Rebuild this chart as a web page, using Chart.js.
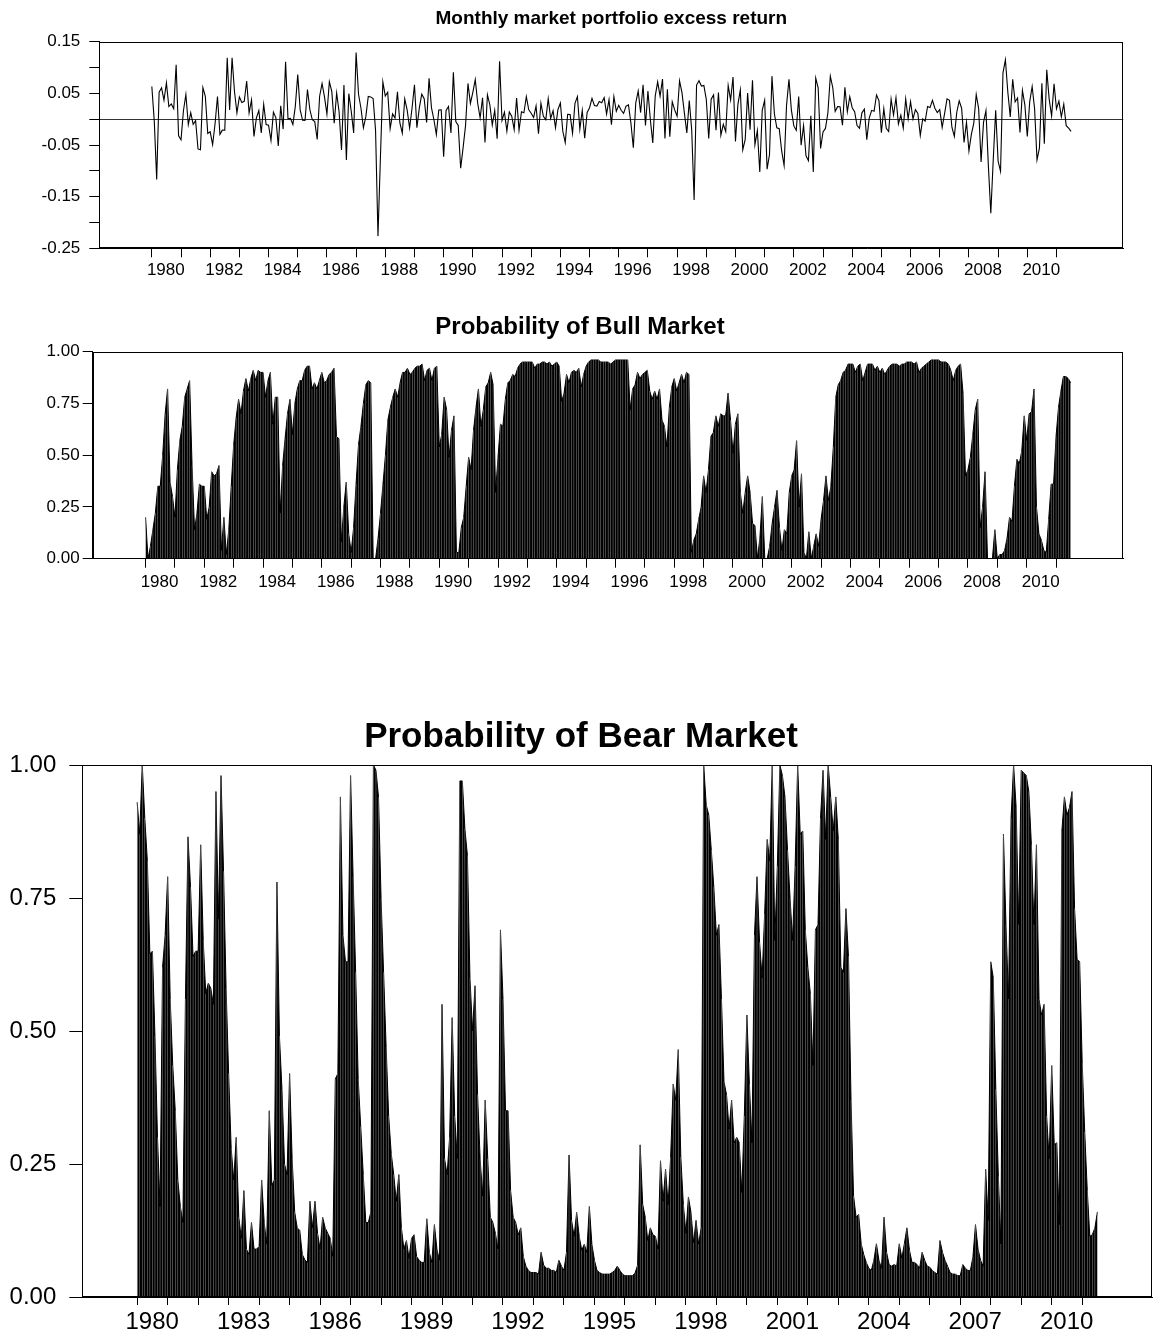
<!DOCTYPE html>
<html>
<head>
<meta charset="utf-8">
<title>Market regimes</title>
<script src="https://cdn.jsdelivr.net/npm/chart.js@4.4.1/dist/chart.umd.min.js"></script>
<style>
  body { margin: 0; background: #fff; }
  .panel { position: absolute; left: 0; width: 1160px; }
  #topBox { top: 0; height: 290px; }
  #bullBox { top: 290px; height: 310px; }
  #bearBox { top: 680px; height: 660px; }
</style>
</head>
<body>
<div class="panel" id="topBox"><canvas id="returnChart"></canvas></div>
<div class="panel" id="bullBox"><canvas id="bullChart"></canvas></div>
<div class="panel" id="bearBox"><canvas id="bearChart"></canvas></div>

<script>
// monthly observations, 1980M1 .. 2011M7
const startYear = 1980;

const yearTicks = [1980, 1981, 1982, 1983, 1984, 1985, 1986, 1987, 1988, 1989, 1990, 1991,
  1992, 1993, 1994, 1995, 1996, 1997, 1998, 1999, 2000, 2001, 2002, 2003, 2004, 2005,
  2006, 2007, 2008, 2009, 2010, 2011];
const evenYearLabels = [1980, 1982, 1984, 1986, 1988, 1990, 1992, 1994, 1996, 1998, 2000,
  2002, 2004, 2006, 2008, 2010];
const bearYearLabels = [1980, 1983, 1986, 1989, 1992, 1995, 1998, 2001, 2004, 2007, 2010];

const returnTicks = [0.15, 0.10, 0.05, 0, -0.05, -0.10, -0.15, -0.20, -0.25];
const returnLabels = [0.15, 0.05, -0.05, -0.15, -0.25];
const probTicks = [0, 0.25, 0.5, 0.75, 1];

const excessReturn = [
  0.0631, -0.0033, -0.1169, 0.0523, 0.0607, 0.0367, 0.0702, 0.0244, 0.0294, 0.0201, 0.1055, -0.0321,
  -0.0400, 0.0164, 0.0477, -0.0103, 0.0126, -0.0101, -0.0030, -0.0576, -0.0593, 0.0613, 0.0443, -0.0278,
  -0.0244, -0.0494, -0.0089, 0.0440, -0.0293, -0.0213, -0.0214, 0.1190, 0.0180, 0.1189, 0.0530, 0.0122,
  0.0429, 0.0322, 0.0345, 0.0738, 0.0121, 0.0374, -0.0333, 0.0026, 0.0167, -0.0268, 0.0286, -0.0105,
  -0.0116, -0.0411, 0.0136, 0.0030, -0.0519, 0.0257, -0.0192, 0.1111, 0.0006, 0.0016, -0.0103, 0.0248,
  0.0864, 0.0180, -0.0022, -0.0024, 0.0575, 0.0182, -0.0012, -0.0047, -0.0394, 0.0444, 0.0692, 0.0431,
  0.0098, 0.0725, 0.0539, -0.0079, 0.0508, 0.0145, -0.0597, 0.0663, -0.0790, 0.0494, 0.0153, -0.0266,
  0.1289, 0.0482, 0.0211, -0.0167, 0.0049, 0.0442, 0.0431, 0.0399, -0.0214, -0.2264, -0.0742, 0.0720,
  0.0450, 0.0521, -0.0183, 0.0102, 0.0022, 0.0528, -0.0074, -0.0272, 0.0392, 0.0176, -0.0172, 0.0212,
  0.0665, -0.0164, 0.0218, 0.0484, 0.0397, -0.0064, 0.0790, 0.0218, -0.0011, -0.0299, 0.0179, 0.0182,
  -0.0728, 0.0168, 0.0247, -0.0267, 0.0910, -0.0046, -0.0122, -0.0949, -0.0552, -0.0124, 0.0692, 0.0306,
  0.0521, 0.0767, 0.0309, 0.0025, 0.0412, -0.0452, 0.0473, 0.0278, -0.0113, 0.0171, -0.0380, 0.1122,
  -0.0025, 0.0137, -0.0232, 0.0139, 0.0058, -0.0202, 0.0408, -0.0212, 0.0145, 0.0125, 0.0436, 0.0181,
  0.0116, 0.0034, 0.0255, -0.0281, 0.0311, 0.0056, -0.0010, 0.0396, 0.0014, 0.0163, -0.0164, 0.0188,
  0.0312, -0.0234, -0.0451, 0.0095, 0.0089, -0.0272, 0.0305, 0.0438, -0.0194, 0.0172, -0.0367, 0.0130,
  0.0222, 0.0403, 0.0265, 0.0255, 0.0344, 0.0319, 0.0417, 0.0102, 0.0378, -0.0105, 0.0438, 0.0152,
  0.0269, 0.0172, 0.0112, 0.0252, 0.0278, -0.0074, -0.0552, 0.0318, 0.0545, 0.0128, 0.0666, -0.0124,
  0.0544, -0.0010, -0.0459, 0.0447, 0.0723, 0.0447, 0.0776, -0.0374, 0.0579, -0.0338, 0.0337, 0.0180,
  0.0058, 0.0743, 0.0515, 0.0116, -0.0267, 0.0359, -0.0206, -0.1565, 0.0661, 0.0745, 0.0641, 0.0654,
  0.0385, -0.0373, 0.0388, 0.0470, -0.0212, 0.0517, -0.0311, -0.0099, -0.0240, 0.0651, 0.0373, 0.0816,
  -0.0433, 0.0288, 0.0567, -0.0594, -0.0392, 0.0504, -0.0203, 0.0753, -0.0494, -0.0220, -0.1021, 0.0169,
  0.0367, -0.0967, -0.0684, 0.0833, 0.0104, -0.0166, -0.0183, -0.0615, -0.0897, 0.0268, 0.0771, 0.0176,
  -0.0130, -0.0216, 0.0437, -0.0505, -0.0124, -0.0708, -0.0803, 0.0064, -0.1021, 0.0798, 0.0608, -0.0565,
  -0.0247, -0.0179, 0.0119, 0.0832, 0.0614, 0.0152, 0.0242, 0.0241, -0.0116, 0.0615, 0.0142, 0.0437,
  0.0222, 0.0146, -0.0123, -0.0175, 0.0123, 0.0194, -0.0396, 0.0019, 0.0171, 0.0154, 0.0469, 0.0359,
  -0.0260, 0.0205, -0.0176, -0.0240, 0.0389, 0.0080, 0.0416, -0.0092, 0.0078, -0.0175, 0.0392, 0.0007,
  0.0339, 0.0004, 0.0183, 0.0109, -0.0314, 0.0005, -0.0038, 0.0245, 0.0225, 0.0364, 0.0213, 0.0127,
  0.0184, -0.0158, 0.0111, 0.0393, 0.0365, -0.0156, -0.0333, 0.0134, 0.0354, 0.0212, -0.0449, -0.0060,
  -0.0615, -0.0296, -0.0076, 0.0478, 0.0204, -0.0827, -0.0062, 0.0166, -0.0909, -0.1820, -0.0783, 0.0174,
  -0.0812, -0.1009, 0.0897, 0.1150, 0.0521, 0.0044, 0.0773, 0.0334, 0.0409, -0.0259, 0.0556, 0.0276,
  -0.0336, 0.0340, 0.0632, 0.0201, -0.0788, -0.0555, 0.0694, -0.0476, 0.0955, 0.0389, 0.0061, 0.0683,
  0.0200, 0.0350, 0.0046, 0.0290, -0.0126, -0.0175, -0.0236
];

const bullProb = [
  0.20, 0.00, 0.06, 0.14, 0.22, 0.35, 0.35, 0.50, 0.70, 0.82, 0.37, 0.30,
  0.20, 0.43, 0.57, 0.64, 0.78, 0.82, 0.86, 0.45, 0.14, 0.22, 0.36, 0.35,
  0.35, 0.19, 0.25, 0.42, 0.40, 0.41, 0.45, 0.04, 0.20, 0.02, 0.14, 0.35,
  0.55, 0.68, 0.77, 0.70, 0.81, 0.87, 0.81, 0.87, 0.91, 0.86, 0.91, 0.90,
  0.90, 0.78, 0.86, 0.90, 0.65, 0.78, 0.78, 0.22, 0.45, 0.58, 0.70, 0.77,
  0.60, 0.75, 0.82, 0.86, 0.86, 0.91, 0.93, 0.93, 0.82, 0.85, 0.82, 0.86,
  0.90, 0.85, 0.86, 0.89, 0.90, 0.92, 0.59, 0.58, 0.08, 0.25, 0.37, 0.12,
  0.03, 0.15, 0.36, 0.55, 0.64, 0.75, 0.84, 0.86, 0.85, 0.00, 0.00, 0.10,
  0.22, 0.36, 0.50, 0.67, 0.73, 0.78, 0.82, 0.78, 0.85, 0.90, 0.90, 0.92,
  0.89, 0.90, 0.92, 0.93, 0.93, 0.94, 0.86, 0.91, 0.92, 0.86, 0.92, 0.93,
  0.54, 0.60, 0.78, 0.72, 0.49, 0.62, 0.69, 0.03, 0.03, 0.15, 0.20, 0.35,
  0.49, 0.43, 0.62, 0.73, 0.82, 0.64, 0.72, 0.83, 0.85, 0.90, 0.84, 0.32,
  0.49, 0.65, 0.64, 0.77, 0.85, 0.86, 0.89, 0.88, 0.92, 0.94, 0.95, 0.95,
  0.95, 0.95, 0.95, 0.92, 0.94, 0.94, 0.95, 0.95, 0.94, 0.95, 0.93, 0.94,
  0.95, 0.93, 0.76, 0.80, 0.89, 0.85, 0.90, 0.91, 0.90, 0.92, 0.83, 0.89,
  0.93, 0.95, 0.96, 0.96, 0.96, 0.96, 0.95, 0.95, 0.95, 0.95, 0.94, 0.95,
  0.96, 0.96, 0.96, 0.96, 0.96, 0.96, 0.72, 0.82, 0.84, 0.90, 0.87, 0.89,
  0.90, 0.91, 0.81, 0.77, 0.81, 0.77, 0.82, 0.67, 0.64, 0.54, 0.73, 0.83,
  0.87, 0.81, 0.85, 0.89, 0.85, 0.90, 0.89, 0.03, 0.09, 0.12, 0.19, 0.25,
  0.40, 0.32, 0.43, 0.59, 0.61, 0.69, 0.64, 0.70, 0.69, 0.69, 0.80, 0.67,
  0.51, 0.65, 0.70, 0.32, 0.22, 0.32, 0.40, 0.32, 0.17, 0.16, 0.00, 0.10,
  0.30, 0.00, 0.00, 0.06, 0.17, 0.25, 0.33, 0.15, 0.04, 0.14, 0.12, 0.32,
  0.40, 0.43, 0.57, 0.25, 0.41, 0.03, 0.00, 0.13, 0.00, 0.06, 0.12, 0.06,
  0.19, 0.28, 0.40, 0.28, 0.35, 0.54, 0.78, 0.84, 0.86, 0.90, 0.91, 0.94,
  0.94, 0.94, 0.90, 0.93, 0.94, 0.86, 0.90, 0.94, 0.94, 0.94, 0.91, 0.93,
  0.90, 0.92, 0.89, 0.91, 0.93, 0.94, 0.94, 0.94, 0.93, 0.94, 0.94, 0.95,
  0.95, 0.95, 0.94, 0.95, 0.90, 0.92, 0.93, 0.94, 0.95, 0.96, 0.96, 0.96,
  0.96, 0.95, 0.95, 0.95, 0.94, 0.91, 0.86, 0.91, 0.93, 0.94, 0.80, 0.40,
  0.43, 0.49, 0.60, 0.72, 0.77, 0.15, 0.25, 0.42, 0.00, 0.00, 0.00, 0.14,
  0.00, 0.02, 0.02, 0.04, 0.10, 0.20, 0.18, 0.35, 0.48, 0.46, 0.52, 0.69,
  0.57, 0.70, 0.71, 0.82, 0.25, 0.12, 0.09, 0.04, 0.03, 0.19, 0.36, 0.36,
  0.59, 0.73, 0.81, 0.88, 0.88, 0.87, 0.85
];

const bearProb = [
  0.93, 0.87, 1.00, 0.90, 0.82, 0.645, 0.65, 0.49, 0.30, 0.17, 0.62, 0.68,
  0.79, 0.56, 0.435, 0.35, 0.22, 0.17, 0.14, 0.56, 0.865, 0.77, 0.64, 0.65,
  0.65, 0.85, 0.67, 0.57, 0.59, 0.58, 0.55, 0.95, 0.71, 0.98, 0.80, 0.58,
  0.42, 0.28, 0.22, 0.30, 0.15, 0.11, 0.20, 0.09, 0.08, 0.14, 0.09, 0.09,
  0.095, 0.22, 0.14, 0.10, 0.35, 0.21, 0.22, 0.78, 0.49, 0.39, 0.25, 0.23,
  0.42, 0.26, 0.16, 0.13, 0.125, 0.08, 0.07, 0.065, 0.18, 0.13, 0.18, 0.12,
  0.09, 0.15, 0.13, 0.12, 0.11, 0.076, 0.41, 0.42, 0.94, 0.68, 0.63, 0.63,
  0.98, 0.79, 0.61, 0.41, 0.32, 0.23, 0.14, 0.14, 0.16, 1.00, 0.99, 0.94,
  0.75, 0.61, 0.47, 0.34, 0.27, 0.23, 0.18, 0.23, 0.13, 0.09, 0.106, 0.073,
  0.11, 0.117, 0.076, 0.069, 0.065, 0.065, 0.147, 0.084, 0.065, 0.136, 0.09, 0.069,
  0.55, 0.26, 0.23, 0.30, 0.525, 0.34, 0.26, 0.97, 0.97, 0.88, 0.83, 0.60,
  0.50, 0.585, 0.38, 0.26, 0.19, 0.37, 0.26, 0.15, 0.14, 0.12, 0.09, 0.69,
  0.56, 0.35, 0.35, 0.20, 0.15, 0.14, 0.117, 0.13, 0.076, 0.058, 0.05, 0.046,
  0.046, 0.046, 0.043, 0.084, 0.06, 0.054, 0.054, 0.05, 0.05, 0.046, 0.069, 0.058,
  0.05, 0.084, 0.267, 0.144, 0.114, 0.159, 0.114, 0.088, 0.099, 0.084, 0.17, 0.099,
  0.069, 0.05, 0.046, 0.043, 0.043, 0.043, 0.043, 0.046, 0.05, 0.058, 0.05, 0.043,
  0.04, 0.04, 0.04, 0.04, 0.045, 0.06, 0.286, 0.174, 0.15, 0.106, 0.13, 0.117,
  0.114, 0.09, 0.256, 0.18, 0.24, 0.174, 0.263, 0.40, 0.37, 0.465, 0.263, 0.174,
  0.12, 0.188, 0.159, 0.102, 0.144, 0.099, 0.13, 1.00, 0.925, 0.906, 0.84, 0.77,
  0.68, 0.70, 0.56, 0.405, 0.38, 0.316, 0.37, 0.29, 0.30, 0.29, 0.196, 0.34,
  0.53, 0.40, 0.29, 0.68, 0.79, 0.667, 0.60, 0.72, 0.86, 0.82, 1.00, 0.67,
  0.81, 1.00, 0.98, 0.94, 0.84, 0.75, 0.67, 0.81, 1.00, 0.87, 0.876, 0.69,
  0.62, 0.57, 0.435, 0.69, 0.70, 0.90, 0.99, 0.86, 1.00, 0.94, 0.876, 0.94,
  0.86, 0.62, 0.61, 0.73, 0.64, 0.37, 0.19, 0.15, 0.155, 0.10, 0.08, 0.065,
  0.054, 0.05, 0.069, 0.10, 0.069, 0.054, 0.15, 0.084, 0.061, 0.058, 0.061, 0.058,
  0.10, 0.073, 0.10, 0.13, 0.088, 0.065, 0.065, 0.061, 0.054, 0.084, 0.069, 0.058,
  0.056, 0.05, 0.046, 0.043, 0.106, 0.084, 0.069, 0.058, 0.046, 0.043, 0.043, 0.04,
  0.04, 0.061, 0.054, 0.05, 0.05, 0.076, 0.136, 0.09, 0.069, 0.058, 0.24, 0.144,
  0.63, 0.60, 0.39, 0.226, 0.10, 0.87, 0.70, 0.56, 0.90, 1.00, 0.92, 0.70,
  0.99, 0.985, 0.98, 0.95, 0.85, 0.70, 0.85, 0.56, 0.53, 0.55, 0.34, 0.26,
  0.435, 0.286, 0.29, 0.136, 0.876, 0.94, 0.906, 0.92, 0.95, 0.73, 0.635, 0.63,
  0.44, 0.31, 0.20, 0.114, 0.117, 0.13, 0.16
];

const FONT = "'Liberation Sans', Arial, Helvetica, sans-serif";
const STRIPE = '#a0a0a0';

// month i sits at startYear + i/12 on a linear year axis
const points = vals => vals.map((v, i) => ({ x: startYear + i / 12, y: v }));

// box round the plot area
const framePlugin = {
  id: 'frame',
  afterDatasetsDraw(chart) {
    const { ctx, chartArea: a } = chart;
    ctx.save();
    ctx.strokeStyle = '#000';
    ctx.lineWidth = 1;
    const l = Math.round(a.left) + 0.5, t = Math.round(a.top) + 0.5;
    const r = Math.round(a.right) - 0.5, b = Math.round(a.bottom) - 0.5;
    ctx.strokeRect(l, t, r - l, b - t);
    ctx.restore();
  }
};

function yearAxis(labels, size, labelOffset, height, tickLength, padding) {
  return {
    type: 'linear',
    min: 1978.2,
    max: 2013.29,
    offset: false,
    afterBuildTicks: s => { s.ticks = yearTicks.map(v => ({ value: v })); },
    afterFit: s => { s.height = height; },
    ticks: {
      autoSkip: false, maxRotation: 0, minRotation: 0,
      labelOffset: labelOffset, padding: padding, color: '#000',
      font: { family: FONT, size: size },
      callback: v => labels.includes(v) ? String(v) : ''
    },
    grid: { offset: false, drawOnChartArea: false, tickLength: tickLength, tickColor: '#000', tickWidth: 1 },
    border: { display: true, color: '#000', width: 1 }
  };
}

function probAxis(size, width, tickLength, padding) {
  return {
    min: 0, max: 1,
    afterBuildTicks: s => { s.ticks = probTicks.map(v => ({ value: v })); },
    afterFit: s => { s.width = width; },
    ticks: {
      color: '#000', padding: padding,
      font: { family: FONT, size: size },
      callback: v => v.toFixed(2)
    },
    grid: { drawOnChartArea: false, tickLength: tickLength, tickColor: '#000', tickWidth: 1 },
    border: { display: true, color: '#000', width: 1 }
  };
}

function titleOpts(text, size, top, bottom, fullSize) {
  return {
    display: true, text: text, color: '#000', fullSize: fullSize,
    font: { family: FONT, size: size, weight: 'bold' },
    padding: { top: top, bottom: bottom }
  };
}

const baseOptions = {
  responsive: true,
  maintainAspectRatio: false,
  animation: false,
  events: [],
  devicePixelRatio: 1
};

// top panel: monthly return line
new Chart(document.getElementById('returnChart'), {
  type: 'line',
  data: {
    datasets: [{
      data: points(excessReturn),
      borderColor: '#000',
      borderWidth: 1.1,
      pointRadius: 0,
      tension: 0,
      fill: false
    }]
  },
  options: Object.assign({}, baseOptions, {
    layout: { padding: { top: 1.3, right: 36.7, bottom: 0, left: 0 } },
    plugins: {
      legend: { display: false },
      tooltip: { enabled: false },
      title: titleOpts('Monthly market portfolio excess return', 19, 6, 11.6, false)
    },
    scales: {
      x: yearAxis(evenYearLabels, 17, 14, 41.7, 9, 3),
      y: {
        min: -0.25, max: 0.15,
        afterBuildTicks: s => { s.ticks = returnTicks.map(v => ({ value: v })); },
        afterFit: s => { s.width = 99.3; },
        ticks: {
          color: '#000', padding: 9,
          font: { family: FONT, size: 17 },
          callback: v => returnLabels.some(l => Math.abs(l - v) < 1e-6) ? v.toFixed(2) : ''
        },
        grid: {
          drawOnChartArea: true,
          color: c => (c.tick && Math.abs(c.tick.value) < 1e-9) ? '#333' : 'rgba(0,0,0,0)',
          tickColor: '#000', tickLength: 10, tickWidth: 1, lineWidth: 1
        },
        border: { display: true, color: '#000', width: 1 }
      }
    }
  }),
  plugins: [framePlugin]
});

function probChart(id, title, values, o) {
  return new Chart(document.getElementById(id), {
    type: 'line',
    data: {
      datasets: [
        {
          // thin light rule at every month, as in the original shading
          type: 'bar',
          data: points(values),
          backgroundColor: STRIPE,
          borderWidth: 0,
          inflateAmount: 0,
          barThickness: 0.45,
          order: 1
        },
        {
          type: 'line',
          data: points(values),
          borderColor: '#000',
          backgroundColor: '#000',
          borderWidth: 1,
          pointRadius: 0,
          tension: 0,
          fill: 'origin',
          order: 2
        }
      ]
    },
    options: Object.assign({}, baseOptions, {
      layout: { padding: o.padding },
      plugins: {
        legend: { display: false },
        tooltip: { enabled: false },
        title: titleOpts(title, o.titleSize, o.titleTop, o.titleBottom, true)
      },
      scales: {
        x: yearAxis(o.yearLabels, o.fontSize, o.labelOffset, o.xHeight, o.xTick, o.xPad),
        y: probAxis(o.fontSize, o.yWidth, o.yTick, o.yPad)
      }
    }),
    plugins: [framePlugin]
  });
}

// left padding + y axis width = plot left edge; padding also centres the title
probChart('bullChart', 'Probability of Bull Market', bullProb, {
  padding: { top: 0, right: 36.7, bottom: 0, left: 36.7 },
  titleSize: 24, titleTop: 22.6, titleBottom: 10.3,
  yearLabels: evenYearLabels, fontSize: 17, labelOffset: 14,
  xHeight: 41.3, xTick: 9, xPad: 4,
  yWidth: 56, yTick: 10, yPad: 3
});

probChart('bearChart', 'Probability of Bear Market', bearProb, {
  padding: { top: 0, right: 8, bottom: 0, left: 10 },
  titleSize: 35, titleTop: 36, titleBottom: 7,
  yearLabels: bearYearLabels, fontSize: 24, labelOffset: 15,
  xHeight: 43, xTick: 8, xPad: 3,
  yWidth: 72.3, yTick: 13, yPad: 13
});
</script>
</body>
</html>
